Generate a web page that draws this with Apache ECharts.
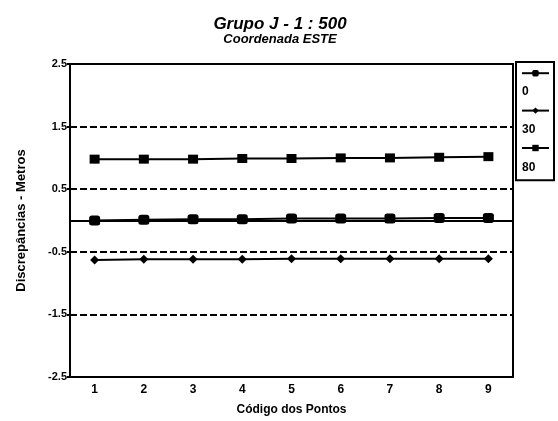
<!DOCTYPE html>
<html>
<head>
<meta charset="utf-8">
<script src="https://cdn.jsdelivr.net/npm/echarts@6/dist/echarts.min.js"></script>
<style>
html,body{margin:0;padding:0;background:#fff;}
#chart{width:558px;height:421px;}
</style>
</head>
<body>
<div id="chart"></div>
<script>
// Data
var categories = ['1','2','3','4','5','6','7','8','9'];
var seriesNames = ['0','30','80'];
var values0  = [0.00, 0.01, 0.02, 0.02, 0.03, 0.03, 0.03, 0.04, 0.04];
var values30 = [-0.63, -0.62, -0.62, -0.62, -0.61, -0.61, -0.61, -0.61, -0.61];
var values80 = [0.98, 0.98, 0.98, 0.99, 0.99, 1.00, 1.00, 1.01, 1.02];
var yTicks = [-2.5, -1.5, -0.5, 0.5, 1.5, 2.5];

var FONT = 'Liberation Sans, Arial, sans-serif';
var chart = echarts.init(document.getElementById('chart'), null, {renderer:'canvas'});
var option = {
  backgroundColor: '#fff',
  animation: false,
  title: {
    text: 'Grupo J - 1 : 500',
    subtext: 'Coordenada ESTE',
    left: 275, top: 11, textAlign: 'center', itemGap: 0,
    textStyle: {fontFamily: FONT, fontSize: 17, fontWeight: 'bold', fontStyle: 'italic', color: '#000'},
    subtextStyle: {fontFamily: FONT, fontSize: 13, fontWeight: 'bold', fontStyle: 'italic', color: '#000'}
  },
  legend: [{
    data: seriesNames,
    orient: 'vertical',
    left: 516, top: 62,
    itemWidth: 27, itemHeight: 8, itemGap: 31,
    padding: [8, 0, 29, 5],
    borderColor: '#000', borderWidth: 2,
    formatter: function(){ return ''; },
    textStyle: {fontSize: 8, lineHeight: 8, color: '#000'},
    selectedMode: false
  },{
    data: seriesNames,
    orient: 'vertical',
    left: 517, top: 86,
    icon: 'rect', itemWidth: 0, itemHeight: 12, itemGap: 26,
    padding: 0,
    textStyle: {fontFamily: FONT, fontSize: 12, fontWeight: 'bold', lineHeight: 12, color: '#000'},
    selectedMode: false
  }],
  grid: {left: 70, right: 45, top: 64, bottom: 42, containLabel: false,
         show: true, borderColor: '#000', borderWidth: 2},
  xAxis: {
    type: 'category', data: categories, boundaryGap: true,
    name: 'Código dos Pontos', nameLocation: 'middle', nameGap: 27,
    nameTextStyle: {fontFamily: FONT, fontSize: 12, fontWeight: 'bold', color: '#000'},
    axisLine: {lineStyle: {color: '#000', width: 2}},
    axisTick: {alignWithLabel: true, length: 4, lineStyle: {color: '#000', width: 2}},
    axisLabel: {fontFamily: FONT, fontSize: 12, fontWeight: 'bold', color: '#000', margin: 7}
  },
  yAxis: {
    type: 'value', min: -2.5, max: 2.5, interval: 1,
    name: 'Discrepâncias - Metros', nameLocation: 'middle', nameGap: 42,
    nameTextStyle: {fontFamily: FONT, fontSize: 13, fontWeight: 'bold', color: '#000'},
    axisLine: {show: true, lineStyle: {color: '#000', width: 2}},
    axisTick: {show: true, length: 3, lineStyle: {color: '#000', width: 2}},
    axisLabel: {fontFamily: FONT, fontSize: 11, fontWeight: 'bold', color: '#000', margin: 3,
      formatter: function(v){ return v.toFixed(1); }},
    splitLine: {show: true, lineStyle: {color: '#000', width: 2, type: [7, 3]}}
  },
  series: [{
    name: '0', type: 'line', data: values0,
    symbol: 'roundRect', symbolSize: [11, 10],
    lineStyle: {color: '#000', width: 2}, itemStyle: {color: '#000'},
    markLine: {silent: true, symbol: 'none', label: {show: false},
      lineStyle: {color: '#000', width: 2, type: 'solid'}, data: [{yAxis: 0}]}
  },{
    name: '30', type: 'line', data: values30,
    symbol: 'diamond', symbolSize: [9, 9],
    lineStyle: {color: '#000', width: 2}, itemStyle: {color: '#000'}
  },{
    name: '80', type: 'line', data: values80,
    symbol: 'rect', symbolSize: [10, 9],
    lineStyle: {color: '#000', width: 2}, itemStyle: {color: '#000'}
  }]
};
chart.setOption(option);
</script>
</body>
</html>
